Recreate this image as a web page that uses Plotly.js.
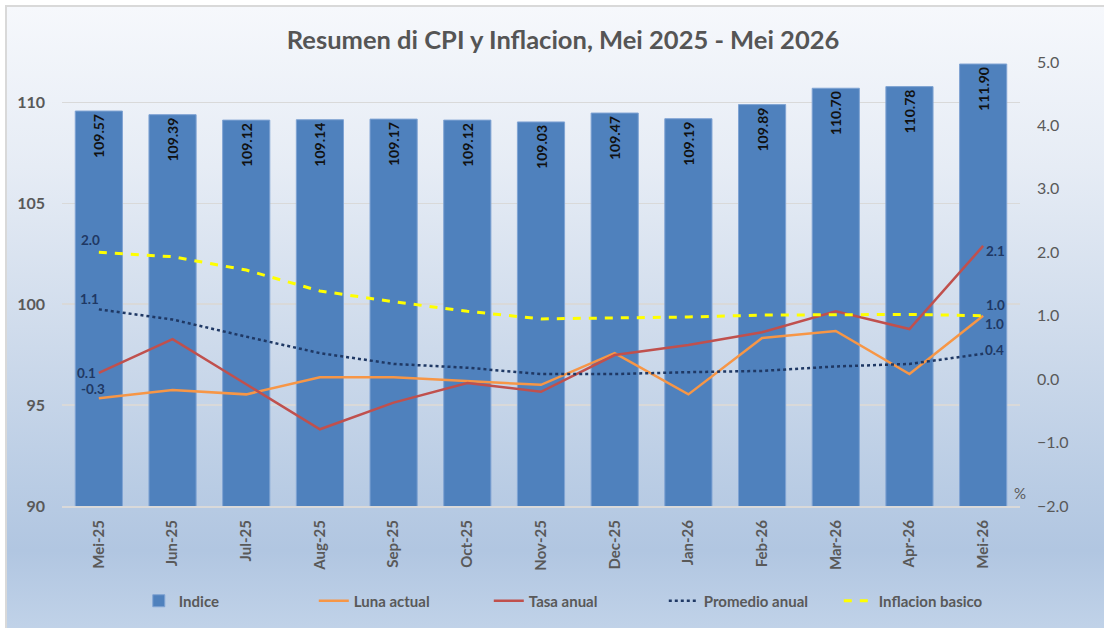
<!DOCTYPE html>
<html>
<head>
<meta charset="utf-8">
<script src="https://cdn.plot.ly/plotly-3.0.1.min.js"></script>
<style>
  html, body { margin: 0; padding: 0; background: #ffffff; }
  #wrap { position: relative; width: 1104px; height: 628px; overflow: hidden; background: #ffffff; }
  #frame { position: absolute; left: 5px; top: 5px; width: 1110px; height: 640px;
           border-left: 2px solid #d9d9d9; border-top: 2px solid #d9d9d9;
           background: linear-gradient(to bottom, #f6f8fc 0%, #e6ecf5 25%, #d0dcec 50%, #b9cce4 75%, #b1c6e1 85%, #c4d5ea 100%); }
  #chart { position: absolute; left: 0; top: 0; width: 1104px; height: 628px; }
</style>
</head>
<body>
<div id="wrap">
  <div id="frame"></div>
  <div id="chart"></div>
</div>
<script>
const months = ['Mei-25','Jun-25','Jul-25','Aug-25','Sep-25','Oct-25','Nov-25','Dec-25','Jan-26','Feb-26','Mar-26','Apr-26','Mei-26'];
const indice = [109.57,109.39,109.12,109.14,109.17,109.12,109.03,109.47,109.19,109.89,110.70,110.78,111.90];
const lunaActual = [-0.3,-0.17,-0.24,0.03,0.03,-0.03,-0.09,0.41,-0.24,0.65,0.76,0.08,1.0];
const tasaAnual = [0.1,0.63,-0.08,-0.79,-0.37,-0.06,-0.2,0.38,0.54,0.74,1.07,0.79,2.1];
const promedioAnual = [1.1,0.94,0.67,0.41,0.24,0.18,0.08,0.08,0.11,0.13,0.2,0.24,0.4];
const inflacionBasico = [2.0,1.93,1.72,1.39,1.22,1.07,0.95,0.96,0.98,1.01,1.02,1.02,1.0];

const FONT = 'Lato, "Open Sans", sans-serif';
const GRAY = '#595959';
const NAVY = '#1f3864';

const traces = [
  {
    type: 'bar', name: 'Indice', x: months, y: indice,
    marker: { color: '#4f81bd', line: { color: '#7fa3d3', width: 1 } },
    text: indice.map(v => v.toFixed(2)), textposition: 'inside', insidetextanchor: 'end',
    textangle: -90, constraintext: 'none',
    textfont: { family: FONT, size: 14, color: '#111111', weight: 'bold' },
    hoverinfo: 'x+y'
  },
  {
    type: 'scatter', mode: 'lines', name: 'Luna actual', x: months, y: lunaActual, yaxis: 'y2',
    line: { color: '#f79646', width: 2.5 }
  },
  {
    type: 'scatter', mode: 'lines', name: 'Tasa anual', x: months, y: tasaAnual, yaxis: 'y2',
    line: { color: '#c0504d', width: 2.5 }
  },
  {
    type: 'scatter', mode: 'lines', name: 'Promedio anual', x: months, y: promedioAnual, yaxis: 'y2',
    line: { color: '#1f3864', width: 2.5, dash: 'dot' }
  },
  {
    type: 'scatter', mode: 'lines', name: 'Inflacion basico', x: months, y: inflacionBasico, yaxis: 'y2',
    line: { color: '#ffff00', width: 3, dash: '8px,8px' }
  }
];

// end-point labels (first and last points of each line), offsets in px
const labelSpecs = [
  { arr: lunaActual,      first: [-6, 9],   last: [11, -8] },
  { arr: tasaAnual,       first: [-12, 0],  last: [12, -5] },
  { arr: promedioAnual,   first: [-9, 10],  last: [11, 4] },
  { arr: inflacionBasico, first: [-8, 12],  last: [12, 11] }
];
const annotations = [];
labelSpecs.forEach(s => {
  const n = s.arr.length;
  [[0, s.first], [n - 1, s.last]].forEach(([i, off]) => {
    annotations.push({
      x: months[i], y: s.arr[i], xref: 'x', yref: 'y2', showarrow: false,
      text: s.arr[i].toFixed(1), xshift: off[0], yshift: off[1], borderpad: 0,
      font: { family: FONT, size: 13.5, color: NAVY, weight: 'bold' }
    });
  });
});
annotations.push({
  xref: 'paper', yref: 'y2', x: 1, y: -2, xanchor: 'center', yanchor: 'bottom', yshift: 2,
  text: '%', showarrow: false, font: { family: FONT, size: 15, color: GRAY }
});

const layout = {
  width: 1104, height: 628,
  paper_bgcolor: 'rgba(0,0,0,0)', plot_bgcolor: 'rgba(0,0,0,0)',
  margin: { l: 62, r: 84, t: 62, b: 122, autoexpand: false },
  title: {
    text: 'Resumen di CPI y Inflacion, Mei 2025 - Mei 2026',
    x: 0.51, xanchor: 'center', y: 0.936, yanchor: 'middle',
    font: { family: FONT, size: 25.5, color: '#555555', weight: 'bold' }
  },
  bargap: 0.36,
  showlegend: true,
  legend: {
    orientation: 'h', x: 0.522, xanchor: 'center', xref: 'container',
    y: 0.043, yref: 'container', yanchor: 'middle',
    font: { family: FONT, size: 15, color: GRAY, weight: 'bold' },
    bgcolor: 'rgba(0,0,0,0)', entrywidth: 130, entrywidthmode: 'pixels'
  },
  xaxis: {
    type: 'category', tickangle: -90, showgrid: false, zeroline: false,
    showline: true, linecolor: '#d9d9d9', linewidth: 2, ticks: '',
    tickfont: { family: FONT, size: 15, color: GRAY, weight: 'bold' },
    ticklabelstandoff: 6, automargin: false
  },
  yaxis: {
    range: [90, 112], tickvals: [90, 95, 100, 105, 110], showgrid: true,
    gridcolor: '#d9d9d9', gridwidth: 1.5, zeroline: false, showline: false, ticks: '',
    tickfont: { family: FONT, size: 16, color: GRAY, weight: 'bold' },
    ticklabelstandoff: 16, automargin: false
  },
  yaxis2: {
    overlaying: 'y', side: 'right', range: [-2, 5], dtick: 1, tick0: -2, tickformat: '.1f',
    showgrid: false, zeroline: false, showline: false, ticks: '',
    tickfont: { family: FONT, size: 16, color: GRAY },
    ticklabelstandoff: 16, automargin: false
  },
  annotations: annotations
};

Plotly.newPlot('chart', traces, layout, { displayModeBar: false, staticPlot: true });
</script>
</body>
</html>
